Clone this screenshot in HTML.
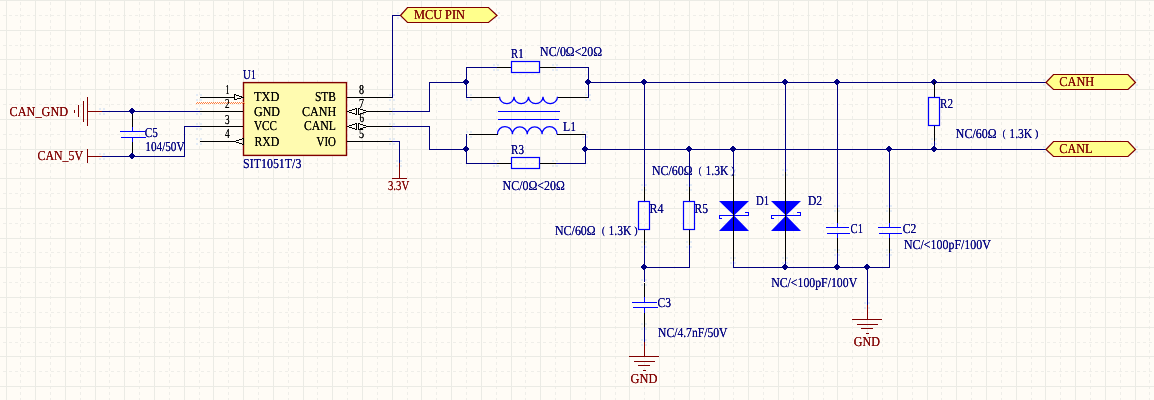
<!DOCTYPE html>
<html><head><meta charset="utf-8"><style>
html,body{margin:0;padding:0;background:#FFFCF6;}
svg{display:block;}
text{font-family:"Liberation Serif",serif;text-rendering:geometricPrecision;}
</style></head><body>
<svg width="1154" height="400" viewBox="0 0 1154 400">
<defs>
<filter id="th" x="0" y="0" width="1154" height="400" filterUnits="userSpaceOnUse"><feComponentTransfer><feFuncA type="table" tableValues="0 0.8 1"/></feComponentTransfer></filter>
<pattern id="dh" x="0" y="0" width="6" height="400" patternUnits="userSpaceOnUse"><rect x="3" y="0" width="3" height="400" fill="#EFEEE9"/></pattern>
<pattern id="dv" x="0" y="0" width="1154" height="6" patternUnits="userSpaceOnUse"><rect x="0" y="2" width="1154" height="3" fill="#EFEEE9"/></pattern>
</defs>
<rect width="1154" height="400" fill="#FFFCF6"/>
<g shape-rendering="crispEdges">
<rect x="20" y="0" width="1" height="400" fill="url(#dv)"/>
<rect x="50" y="0" width="1" height="400" fill="url(#dv)"/>
<rect x="80" y="0" width="1" height="400" fill="url(#dv)"/>
<rect x="109" y="0" width="1" height="400" fill="url(#dv)"/>
<rect x="139" y="0" width="1" height="400" fill="url(#dv)"/>
<rect x="169" y="0" width="1" height="400" fill="url(#dv)"/>
<rect x="199" y="0" width="1" height="400" fill="url(#dv)"/>
<rect x="228" y="0" width="1" height="400" fill="url(#dv)"/>
<rect x="258" y="0" width="1" height="400" fill="url(#dv)"/>
<rect x="288" y="0" width="1" height="400" fill="url(#dv)"/>
<rect x="317" y="0" width="1" height="400" fill="url(#dv)"/>
<rect x="347" y="0" width="1" height="400" fill="url(#dv)"/>
<rect x="377" y="0" width="1" height="400" fill="url(#dv)"/>
<rect x="407" y="0" width="1" height="400" fill="url(#dv)"/>
<rect x="436" y="0" width="1" height="400" fill="url(#dv)"/>
<rect x="466" y="0" width="1" height="400" fill="url(#dv)"/>
<rect x="496" y="0" width="1" height="400" fill="url(#dv)"/>
<rect x="525" y="0" width="1" height="400" fill="url(#dv)"/>
<rect x="555" y="0" width="1" height="400" fill="url(#dv)"/>
<rect x="585" y="0" width="1" height="400" fill="url(#dv)"/>
<rect x="615" y="0" width="1" height="400" fill="url(#dv)"/>
<rect x="644" y="0" width="1" height="400" fill="url(#dv)"/>
<rect x="674" y="0" width="1" height="400" fill="url(#dv)"/>
<rect x="704" y="0" width="1" height="400" fill="url(#dv)"/>
<rect x="733" y="0" width="1" height="400" fill="url(#dv)"/>
<rect x="763" y="0" width="1" height="400" fill="url(#dv)"/>
<rect x="793" y="0" width="1" height="400" fill="url(#dv)"/>
<rect x="823" y="0" width="1" height="400" fill="url(#dv)"/>
<rect x="852" y="0" width="1" height="400" fill="url(#dv)"/>
<rect x="882" y="0" width="1" height="400" fill="url(#dv)"/>
<rect x="912" y="0" width="1" height="400" fill="url(#dv)"/>
<rect x="941" y="0" width="1" height="400" fill="url(#dv)"/>
<rect x="971" y="0" width="1" height="400" fill="url(#dv)"/>
<rect x="1001" y="0" width="1" height="400" fill="url(#dv)"/>
<rect x="1031" y="0" width="1" height="400" fill="url(#dv)"/>
<rect x="1060" y="0" width="1" height="400" fill="url(#dv)"/>
<rect x="1090" y="0" width="1" height="400" fill="url(#dv)"/>
<rect x="1120" y="0" width="1" height="400" fill="url(#dv)"/>
<rect x="1149" y="0" width="1" height="400" fill="url(#dv)"/>
<rect x="0" y="15" width="1154" height="1" fill="url(#dh)"/>
<rect x="0" y="45" width="1154" height="1" fill="url(#dh)"/>
<rect x="0" y="74" width="1154" height="1" fill="url(#dh)"/>
<rect x="0" y="104" width="1154" height="1" fill="url(#dh)"/>
<rect x="0" y="134" width="1154" height="1" fill="url(#dh)"/>
<rect x="0" y="163" width="1154" height="1" fill="url(#dh)"/>
<rect x="0" y="193" width="1154" height="1" fill="url(#dh)"/>
<rect x="0" y="223" width="1154" height="1" fill="url(#dh)"/>
<rect x="0" y="252" width="1154" height="1" fill="url(#dh)"/>
<rect x="0" y="282" width="1154" height="1" fill="url(#dh)"/>
<rect x="0" y="312" width="1154" height="1" fill="url(#dh)"/>
<rect x="0" y="342" width="1154" height="1" fill="url(#dh)"/>
<rect x="0" y="371" width="1154" height="1" fill="url(#dh)"/>
<rect x="6" y="0" width="1" height="400" fill="#EBEBE5"/>
<rect x="35" y="0" width="1" height="400" fill="#EBEBE5"/>
<rect x="65" y="0" width="1" height="400" fill="#EBEBE5"/>
<rect x="95" y="0" width="1" height="400" fill="#EBEBE5"/>
<rect x="124" y="0" width="1" height="400" fill="#EBEBE5"/>
<rect x="154" y="0" width="1" height="400" fill="#EBEBE5"/>
<rect x="184" y="0" width="1" height="400" fill="#EBEBE5"/>
<rect x="213" y="0" width="1" height="400" fill="#EBEBE5"/>
<rect x="243" y="0" width="1" height="400" fill="#EBEBE5"/>
<rect x="273" y="0" width="1" height="400" fill="#EBEBE5"/>
<rect x="303" y="0" width="1" height="400" fill="#EBEBE5"/>
<rect x="332" y="0" width="1" height="400" fill="#EBEBE5"/>
<rect x="362" y="0" width="1" height="400" fill="#EBEBE5"/>
<rect x="392" y="0" width="1" height="400" fill="#EBEBE5"/>
<rect x="421" y="0" width="1" height="400" fill="#EBEBE5"/>
<rect x="451" y="0" width="1" height="400" fill="#EBEBE5"/>
<rect x="481" y="0" width="1" height="400" fill="#EBEBE5"/>
<rect x="511" y="0" width="1" height="400" fill="#EBEBE5"/>
<rect x="540" y="0" width="1" height="400" fill="#EBEBE5"/>
<rect x="570" y="0" width="1" height="400" fill="#EBEBE5"/>
<rect x="600" y="0" width="1" height="400" fill="#EBEBE5"/>
<rect x="629" y="0" width="1" height="400" fill="#EBEBE5"/>
<rect x="659" y="0" width="1" height="400" fill="#EBEBE5"/>
<rect x="689" y="0" width="1" height="400" fill="#EBEBE5"/>
<rect x="719" y="0" width="1" height="400" fill="#EBEBE5"/>
<rect x="748" y="0" width="1" height="400" fill="#EBEBE5"/>
<rect x="778" y="0" width="1" height="400" fill="#EBEBE5"/>
<rect x="808" y="0" width="1" height="400" fill="#EBEBE5"/>
<rect x="837" y="0" width="1" height="400" fill="#EBEBE5"/>
<rect x="867" y="0" width="1" height="400" fill="#EBEBE5"/>
<rect x="897" y="0" width="1" height="400" fill="#EBEBE5"/>
<rect x="927" y="0" width="1" height="400" fill="#EBEBE5"/>
<rect x="956" y="0" width="1" height="400" fill="#EBEBE5"/>
<rect x="986" y="0" width="1" height="400" fill="#EBEBE5"/>
<rect x="1016" y="0" width="1" height="400" fill="#EBEBE5"/>
<rect x="1045" y="0" width="1" height="400" fill="#EBEBE5"/>
<rect x="1075" y="0" width="1" height="400" fill="#EBEBE5"/>
<rect x="1105" y="0" width="1" height="400" fill="#EBEBE5"/>
<rect x="1135" y="0" width="1" height="400" fill="#EBEBE5"/>
<rect x="0" y="0" width="1154" height="1" fill="#EBEBE5"/>
<rect x="0" y="30" width="1154" height="1" fill="#EBEBE5"/>
<rect x="0" y="59" width="1154" height="1" fill="#EBEBE5"/>
<rect x="0" y="89" width="1154" height="1" fill="#EBEBE5"/>
<rect x="0" y="119" width="1154" height="1" fill="#EBEBE5"/>
<rect x="0" y="149" width="1154" height="1" fill="#EBEBE5"/>
<rect x="0" y="178" width="1154" height="1" fill="#EBEBE5"/>
<rect x="0" y="208" width="1154" height="1" fill="#EBEBE5"/>
<rect x="0" y="238" width="1154" height="1" fill="#EBEBE5"/>
<rect x="0" y="267" width="1154" height="1" fill="#EBEBE5"/>
<rect x="0" y="297" width="1154" height="1" fill="#EBEBE5"/>
<rect x="0" y="327" width="1154" height="1" fill="#EBEBE5"/>
<rect x="0" y="356" width="1154" height="1" fill="#EBEBE5"/>
<rect x="0" y="386" width="1154" height="1" fill="#EBEBE5"/>
</g>
<g>
<rect x="99" y="108" width="2" height="2" fill="#E3EBF5"/>
<rect x="103" y="108" width="2" height="2" fill="#E3EBF5"/>
<rect x="99" y="113" width="2" height="2" fill="#E3EBF5"/>
<rect x="103" y="113" width="2" height="2" fill="#E3EBF5"/>
<rect x="99" y="153" width="2" height="2" fill="#E3EBF5"/>
<rect x="103" y="153" width="2" height="2" fill="#E3EBF5"/>
<rect x="99" y="158" width="2" height="2" fill="#E3EBF5"/>
<rect x="103" y="158" width="2" height="2" fill="#E3EBF5"/>
<rect x="196" y="94" width="2" height="2" fill="#E3EBF5"/>
<rect x="200" y="94" width="2" height="2" fill="#E3EBF5"/>
<rect x="196" y="99" width="2" height="2" fill="#E3EBF5"/>
<rect x="200" y="99" width="2" height="2" fill="#E3EBF5"/>
<rect x="196" y="108" width="2" height="2" fill="#E3EBF5"/>
<rect x="200" y="108" width="2" height="2" fill="#E3EBF5"/>
<rect x="196" y="113" width="2" height="2" fill="#E3EBF5"/>
<rect x="200" y="113" width="2" height="2" fill="#E3EBF5"/>
<rect x="196" y="123" width="2" height="2" fill="#E3EBF5"/>
<rect x="200" y="123" width="2" height="2" fill="#E3EBF5"/>
<rect x="196" y="128" width="2" height="2" fill="#E3EBF5"/>
<rect x="200" y="128" width="2" height="2" fill="#E3EBF5"/>
<rect x="196" y="138" width="2" height="2" fill="#E3EBF5"/>
<rect x="200" y="138" width="2" height="2" fill="#E3EBF5"/>
<rect x="196" y="143" width="2" height="2" fill="#E3EBF5"/>
<rect x="200" y="143" width="2" height="2" fill="#E3EBF5"/>
<rect x="389" y="94" width="2" height="2" fill="#E3EBF5"/>
<rect x="393" y="94" width="2" height="2" fill="#E3EBF5"/>
<rect x="389" y="99" width="2" height="2" fill="#E3EBF5"/>
<rect x="393" y="99" width="2" height="2" fill="#E3EBF5"/>
<rect x="389" y="108" width="2" height="2" fill="#E3EBF5"/>
<rect x="393" y="108" width="2" height="2" fill="#E3EBF5"/>
<rect x="389" y="113" width="2" height="2" fill="#E3EBF5"/>
<rect x="393" y="113" width="2" height="2" fill="#E3EBF5"/>
<rect x="389" y="123" width="2" height="2" fill="#E3EBF5"/>
<rect x="393" y="123" width="2" height="2" fill="#E3EBF5"/>
<rect x="389" y="128" width="2" height="2" fill="#E3EBF5"/>
<rect x="393" y="128" width="2" height="2" fill="#E3EBF5"/>
<rect x="389" y="138" width="2" height="2" fill="#E3EBF5"/>
<rect x="393" y="138" width="2" height="2" fill="#E3EBF5"/>
<rect x="389" y="143" width="2" height="2" fill="#E3EBF5"/>
<rect x="393" y="143" width="2" height="2" fill="#E3EBF5"/>
<rect x="397" y="12" width="2" height="2" fill="#E3EBF5"/>
<rect x="401" y="12" width="2" height="2" fill="#E3EBF5"/>
<rect x="397" y="17" width="2" height="2" fill="#E3EBF5"/>
<rect x="401" y="17" width="2" height="2" fill="#E3EBF5"/>
<rect x="493" y="64" width="2" height="2" fill="#E3EBF5"/>
<rect x="497" y="64" width="2" height="2" fill="#E3EBF5"/>
<rect x="493" y="69" width="2" height="2" fill="#E3EBF5"/>
<rect x="497" y="69" width="2" height="2" fill="#E3EBF5"/>
<rect x="552" y="64" width="2" height="2" fill="#E3EBF5"/>
<rect x="556" y="64" width="2" height="2" fill="#E3EBF5"/>
<rect x="552" y="69" width="2" height="2" fill="#E3EBF5"/>
<rect x="556" y="69" width="2" height="2" fill="#E3EBF5"/>
<rect x="466" y="94" width="2" height="2" fill="#E3EBF5"/>
<rect x="470" y="94" width="2" height="2" fill="#E3EBF5"/>
<rect x="466" y="99" width="2" height="2" fill="#E3EBF5"/>
<rect x="470" y="99" width="2" height="2" fill="#E3EBF5"/>
<rect x="585" y="94" width="2" height="2" fill="#E3EBF5"/>
<rect x="589" y="94" width="2" height="2" fill="#E3EBF5"/>
<rect x="585" y="99" width="2" height="2" fill="#E3EBF5"/>
<rect x="589" y="99" width="2" height="2" fill="#E3EBF5"/>
<rect x="466" y="131" width="2" height="2" fill="#E3EBF5"/>
<rect x="470" y="131" width="2" height="2" fill="#E3EBF5"/>
<rect x="466" y="136" width="2" height="2" fill="#E3EBF5"/>
<rect x="470" y="136" width="2" height="2" fill="#E3EBF5"/>
<rect x="582" y="131" width="2" height="2" fill="#E3EBF5"/>
<rect x="586" y="131" width="2" height="2" fill="#E3EBF5"/>
<rect x="582" y="136" width="2" height="2" fill="#E3EBF5"/>
<rect x="586" y="136" width="2" height="2" fill="#E3EBF5"/>
<rect x="493" y="160" width="2" height="2" fill="#E3EBF5"/>
<rect x="497" y="160" width="2" height="2" fill="#E3EBF5"/>
<rect x="493" y="165" width="2" height="2" fill="#E3EBF5"/>
<rect x="497" y="165" width="2" height="2" fill="#E3EBF5"/>
<rect x="552" y="160" width="2" height="2" fill="#E3EBF5"/>
<rect x="556" y="160" width="2" height="2" fill="#E3EBF5"/>
<rect x="552" y="165" width="2" height="2" fill="#E3EBF5"/>
<rect x="556" y="165" width="2" height="2" fill="#E3EBF5"/>
<rect x="931" y="138" width="2" height="2" fill="#E3EBF5"/>
<rect x="935" y="138" width="2" height="2" fill="#E3EBF5"/>
<rect x="931" y="143" width="2" height="2" fill="#E3EBF5"/>
<rect x="935" y="143" width="2" height="2" fill="#E3EBF5"/>
<rect x="641" y="184" width="2" height="2" fill="#E3EBF5"/>
<rect x="645" y="184" width="2" height="2" fill="#E3EBF5"/>
<rect x="641" y="189" width="2" height="2" fill="#E3EBF5"/>
<rect x="645" y="189" width="2" height="2" fill="#E3EBF5"/>
<rect x="641" y="241" width="2" height="2" fill="#E3EBF5"/>
<rect x="645" y="241" width="2" height="2" fill="#E3EBF5"/>
<rect x="641" y="246" width="2" height="2" fill="#E3EBF5"/>
<rect x="645" y="246" width="2" height="2" fill="#E3EBF5"/>
<rect x="686" y="184" width="2" height="2" fill="#E3EBF5"/>
<rect x="690" y="184" width="2" height="2" fill="#E3EBF5"/>
<rect x="686" y="189" width="2" height="2" fill="#E3EBF5"/>
<rect x="690" y="189" width="2" height="2" fill="#E3EBF5"/>
<rect x="686" y="241" width="2" height="2" fill="#E3EBF5"/>
<rect x="690" y="241" width="2" height="2" fill="#E3EBF5"/>
<rect x="686" y="246" width="2" height="2" fill="#E3EBF5"/>
<rect x="690" y="246" width="2" height="2" fill="#E3EBF5"/>
<rect x="730" y="169" width="2" height="2" fill="#E3EBF5"/>
<rect x="734" y="169" width="2" height="2" fill="#E3EBF5"/>
<rect x="730" y="174" width="2" height="2" fill="#E3EBF5"/>
<rect x="734" y="174" width="2" height="2" fill="#E3EBF5"/>
<rect x="730" y="257" width="2" height="2" fill="#E3EBF5"/>
<rect x="734" y="257" width="2" height="2" fill="#E3EBF5"/>
<rect x="730" y="262" width="2" height="2" fill="#E3EBF5"/>
<rect x="734" y="262" width="2" height="2" fill="#E3EBF5"/>
<rect x="782" y="169" width="2" height="2" fill="#E3EBF5"/>
<rect x="786" y="169" width="2" height="2" fill="#E3EBF5"/>
<rect x="782" y="174" width="2" height="2" fill="#E3EBF5"/>
<rect x="786" y="174" width="2" height="2" fill="#E3EBF5"/>
<rect x="782" y="257" width="2" height="2" fill="#E3EBF5"/>
<rect x="786" y="257" width="2" height="2" fill="#E3EBF5"/>
<rect x="782" y="262" width="2" height="2" fill="#E3EBF5"/>
<rect x="786" y="262" width="2" height="2" fill="#E3EBF5"/>
<rect x="834" y="205" width="2" height="2" fill="#E3EBF5"/>
<rect x="838" y="205" width="2" height="2" fill="#E3EBF5"/>
<rect x="834" y="210" width="2" height="2" fill="#E3EBF5"/>
<rect x="838" y="210" width="2" height="2" fill="#E3EBF5"/>
<rect x="834" y="249" width="2" height="2" fill="#E3EBF5"/>
<rect x="838" y="249" width="2" height="2" fill="#E3EBF5"/>
<rect x="834" y="254" width="2" height="2" fill="#E3EBF5"/>
<rect x="838" y="254" width="2" height="2" fill="#E3EBF5"/>
<rect x="886" y="205" width="2" height="2" fill="#E3EBF5"/>
<rect x="890" y="205" width="2" height="2" fill="#E3EBF5"/>
<rect x="886" y="210" width="2" height="2" fill="#E3EBF5"/>
<rect x="890" y="210" width="2" height="2" fill="#E3EBF5"/>
<rect x="886" y="249" width="2" height="2" fill="#E3EBF5"/>
<rect x="890" y="249" width="2" height="2" fill="#E3EBF5"/>
<rect x="886" y="254" width="2" height="2" fill="#E3EBF5"/>
<rect x="890" y="254" width="2" height="2" fill="#E3EBF5"/>
<rect x="641" y="279" width="2" height="2" fill="#E3EBF5"/>
<rect x="645" y="279" width="2" height="2" fill="#E3EBF5"/>
<rect x="641" y="284" width="2" height="2" fill="#E3EBF5"/>
<rect x="645" y="284" width="2" height="2" fill="#E3EBF5"/>
<rect x="641" y="323" width="2" height="2" fill="#E3EBF5"/>
<rect x="645" y="323" width="2" height="2" fill="#E3EBF5"/>
<rect x="641" y="328" width="2" height="2" fill="#E3EBF5"/>
<rect x="645" y="328" width="2" height="2" fill="#E3EBF5"/>
<rect x="864" y="302" width="2" height="2" fill="#E3EBF5"/>
<rect x="868" y="302" width="2" height="2" fill="#E3EBF5"/>
<rect x="864" y="307" width="2" height="2" fill="#E3EBF5"/>
<rect x="868" y="307" width="2" height="2" fill="#E3EBF5"/>
<rect x="641" y="339" width="2" height="2" fill="#E3EBF5"/>
<rect x="645" y="339" width="2" height="2" fill="#E3EBF5"/>
<rect x="641" y="344" width="2" height="2" fill="#E3EBF5"/>
<rect x="645" y="344" width="2" height="2" fill="#E3EBF5"/>
<rect x="396" y="160" width="2" height="2" fill="#E3EBF5"/>
<rect x="400" y="160" width="2" height="2" fill="#E3EBF5"/>
<rect x="396" y="165" width="2" height="2" fill="#E3EBF5"/>
<rect x="400" y="165" width="2" height="2" fill="#E3EBF5"/>
<rect x="1043" y="79" width="2" height="2" fill="#E3EBF5"/>
<rect x="1047" y="79" width="2" height="2" fill="#E3EBF5"/>
<rect x="1043" y="84" width="2" height="2" fill="#E3EBF5"/>
<rect x="1047" y="84" width="2" height="2" fill="#E3EBF5"/>
<rect x="1043" y="146" width="2" height="2" fill="#E3EBF5"/>
<rect x="1047" y="146" width="2" height="2" fill="#E3EBF5"/>
<rect x="1043" y="151" width="2" height="2" fill="#E3EBF5"/>
<rect x="1047" y="151" width="2" height="2" fill="#E3EBF5"/>
<rect x="494" y="12" width="2" height="2" fill="#E3EBF5"/>
<rect x="498" y="12" width="2" height="2" fill="#E3EBF5"/>
<rect x="494" y="17" width="2" height="2" fill="#E3EBF5"/>
<rect x="498" y="17" width="2" height="2" fill="#E3EBF5"/>
<rect x="1132" y="79" width="2" height="2" fill="#E3EBF5"/>
<rect x="1136" y="79" width="2" height="2" fill="#E3EBF5"/>
<rect x="1132" y="84" width="2" height="2" fill="#E3EBF5"/>
<rect x="1136" y="84" width="2" height="2" fill="#E3EBF5"/>
<rect x="1132" y="146" width="2" height="2" fill="#E3EBF5"/>
<rect x="1136" y="146" width="2" height="2" fill="#E3EBF5"/>
<rect x="1132" y="151" width="2" height="2" fill="#E3EBF5"/>
<rect x="1136" y="151" width="2" height="2" fill="#E3EBF5"/>
<rect x="74" y="110" width="1" height="3" fill="#800000"/>
<rect x="78" y="105" width="1" height="12" fill="#800000"/>
<rect x="83" y="101" width="1" height="21" fill="#800000"/>
<rect x="87" y="97" width="1" height="29" fill="#800000"/>
<rect x="87" y="111" width="15" height="1" fill="#800000"/>
<rect x="102" y="111" width="98" height="1" fill="#000080"/>
<rect x="87" y="149" width="1" height="14" fill="#800000"/>
<rect x="87" y="156" width="15" height="1" fill="#800000"/>
<rect x="102" y="156" width="83" height="1" fill="#000080"/>
<rect x="184" y="126" width="1" height="31" fill="#000080"/>
<rect x="184" y="126" width="16" height="1" fill="#000080"/>
<rect x="132" y="111" width="1" height="16" fill="#000000"/>
<rect x="132" y="127" width="1" height="5" fill="#0000FF"/>
<rect x="120" y="131" width="25" height="1" fill="#0000FF"/>
<rect x="121" y="137" width="25" height="1" fill="#0000FF"/>
<rect x="132" y="137" width="1" height="5" fill="#0000FF"/>
<rect x="132" y="142" width="1" height="15" fill="#000000"/>
<rect x="131" y="108" width="2" height="1" fill="#000080"/>
<rect x="130" y="109" width="4" height="1" fill="#000080"/>
<rect x="129" y="110" width="6" height="1" fill="#000080"/>
<rect x="129" y="111" width="6" height="1" fill="#000080"/>
<rect x="130" y="112" width="4" height="1" fill="#000080"/>
<rect x="131" y="113" width="2" height="1" fill="#000080"/>
<rect x="131" y="153" width="2" height="1" fill="#000080"/>
<rect x="130" y="154" width="4" height="1" fill="#000080"/>
<rect x="129" y="155" width="6" height="1" fill="#000080"/>
<rect x="129" y="156" width="6" height="1" fill="#000080"/>
<rect x="130" y="157" width="4" height="1" fill="#000080"/>
<rect x="131" y="158" width="2" height="1" fill="#000080"/>
<rect x="243.5" y="82.6" width="103" height="72.8" fill="#FFFBB0" stroke="#800000" stroke-width="1.4"/>
<rect x="200" y="97" width="35" height="1" fill="#000000"/>
<rect x="234" y="94" width="1" height="6" fill="#000000"/>
<rect x="234" y="94" width="2" height="1" fill="#000000"/>
<rect x="234" y="99" width="3" height="1" fill="#000000"/>
<rect x="236" y="95" width="3" height="1" fill="#000000"/>
<rect x="239" y="96" width="3" height="1" fill="#000000"/>
<rect x="241" y="97" width="3" height="1" fill="#000000"/>
<rect x="237" y="98" width="4" height="1" fill="#000000"/>
<rect x="200" y="111" width="43" height="1" fill="#000000"/>
<rect x="200" y="126" width="43" height="1" fill="#000000"/>
<rect x="200" y="141" width="36" height="1" fill="#000000"/>
<rect x="236" y="140" width="3" height="1" fill="#000000"/>
<rect x="236" y="142" width="3" height="1" fill="#000000"/>
<rect x="239" y="139" width="3" height="1" fill="#000000"/>
<rect x="239" y="143" width="3" height="1" fill="#000000"/>
<rect x="242" y="138" width="2" height="1" fill="#000000"/>
<rect x="242" y="144" width="2" height="1" fill="#000000"/>
<rect x="243" y="138" width="1" height="7" fill="#000000"/>
<rect x="196" y="103" width="1" height="1" fill="#FF7F40"/>
<rect x="197" y="102" width="1" height="1" fill="#FF7F40"/>
<rect x="198" y="103" width="1" height="1" fill="#FF7F40"/>
<rect x="199" y="102" width="1" height="1" fill="#FF7F40"/>
<rect x="200" y="103" width="1" height="1" fill="#FF7F40"/>
<rect x="201" y="102" width="1" height="1" fill="#FF7F40"/>
<rect x="202" y="103" width="1" height="1" fill="#FF7F40"/>
<rect x="203" y="102" width="1" height="1" fill="#FF7F40"/>
<rect x="204" y="103" width="1" height="1" fill="#FF7F40"/>
<rect x="205" y="102" width="1" height="1" fill="#FF7F40"/>
<rect x="206" y="103" width="1" height="1" fill="#FF7F40"/>
<rect x="207" y="102" width="1" height="1" fill="#FF7F40"/>
<rect x="208" y="103" width="1" height="1" fill="#FF7F40"/>
<rect x="209" y="102" width="1" height="1" fill="#FF7F40"/>
<rect x="210" y="103" width="1" height="1" fill="#FF7F40"/>
<rect x="211" y="102" width="1" height="1" fill="#FF7F40"/>
<rect x="212" y="103" width="1" height="1" fill="#FF7F40"/>
<rect x="213" y="102" width="1" height="1" fill="#FF7F40"/>
<rect x="214" y="103" width="1" height="1" fill="#FF7F40"/>
<rect x="215" y="102" width="1" height="1" fill="#FF7F40"/>
<rect x="216" y="103" width="1" height="1" fill="#FF7F40"/>
<rect x="217" y="102" width="1" height="1" fill="#FF7F40"/>
<rect x="218" y="103" width="1" height="1" fill="#FF7F40"/>
<rect x="219" y="102" width="1" height="1" fill="#FF7F40"/>
<rect x="220" y="103" width="1" height="1" fill="#FF7F40"/>
<rect x="221" y="102" width="1" height="1" fill="#FF7F40"/>
<rect x="222" y="103" width="1" height="1" fill="#FF7F40"/>
<rect x="223" y="102" width="1" height="1" fill="#FF7F40"/>
<rect x="224" y="103" width="1" height="1" fill="#FF7F40"/>
<rect x="225" y="102" width="1" height="1" fill="#FF7F40"/>
<rect x="226" y="103" width="1" height="1" fill="#FF7F40"/>
<rect x="227" y="102" width="1" height="1" fill="#FF7F40"/>
<rect x="228" y="103" width="1" height="1" fill="#FF7F40"/>
<rect x="229" y="102" width="1" height="1" fill="#FF7F40"/>
<rect x="230" y="103" width="1" height="1" fill="#FF7F40"/>
<rect x="231" y="102" width="1" height="1" fill="#FF7F40"/>
<rect x="232" y="103" width="1" height="1" fill="#FF7F40"/>
<rect x="233" y="102" width="1" height="1" fill="#FF7F40"/>
<rect x="234" y="103" width="1" height="1" fill="#FF7F40"/>
<rect x="235" y="102" width="1" height="1" fill="#FF7F40"/>
<rect x="236" y="103" width="1" height="1" fill="#FF7F40"/>
<rect x="237" y="102" width="1" height="1" fill="#FF7F40"/>
<rect x="238" y="103" width="1" height="1" fill="#FF7F40"/>
<rect x="239" y="102" width="1" height="1" fill="#FF7F40"/>
<rect x="240" y="103" width="1" height="1" fill="#FF7F40"/>
<rect x="241" y="102" width="1" height="1" fill="#FF7F40"/>
<rect x="242" y="103" width="1" height="1" fill="#FF7F40"/>
<rect x="243" y="102" width="1" height="1" fill="#FF7F40"/>
<rect x="244" y="103" width="1" height="1" fill="#FF7F40"/>
<rect x="347" y="97" width="46" height="1" fill="#000000"/>
<rect x="347" y="111" width="2" height="1" fill="#000000"/>
<rect x="366" y="111" width="26" height="1" fill="#000000"/>
<rect x="347" y="126" width="2" height="1" fill="#000000"/>
<rect x="366" y="126" width="26" height="1" fill="#000000"/>
<rect x="347" y="141" width="45" height="1" fill="#000000"/>
<rect x="349" y="110" width="3" height="1" fill="#000000"/>
<rect x="349" y="112" width="3" height="1" fill="#000000"/>
<rect x="352" y="109" width="3" height="1" fill="#000000"/>
<rect x="352" y="113" width="3" height="1" fill="#000000"/>
<rect x="355" y="108" width="2" height="1" fill="#000000"/>
<rect x="355" y="114" width="2" height="1" fill="#000000"/>
<rect x="356" y="108" width="1" height="7" fill="#000000"/>
<rect x="358" y="108" width="1" height="7" fill="#000000"/>
<rect x="358" y="108" width="2" height="1" fill="#000000"/>
<rect x="358" y="114" width="2" height="1" fill="#000000"/>
<rect x="360" y="109" width="3" height="1" fill="#000000"/>
<rect x="360" y="113" width="3" height="1" fill="#000000"/>
<rect x="363" y="110" width="3" height="1" fill="#000000"/>
<rect x="363" y="112" width="3" height="1" fill="#000000"/>
<rect x="349" y="125" width="3" height="1" fill="#000000"/>
<rect x="349" y="127" width="3" height="1" fill="#000000"/>
<rect x="352" y="124" width="3" height="1" fill="#000000"/>
<rect x="352" y="128" width="3" height="1" fill="#000000"/>
<rect x="355" y="123" width="2" height="1" fill="#000000"/>
<rect x="355" y="129" width="2" height="1" fill="#000000"/>
<rect x="356" y="123" width="1" height="7" fill="#000000"/>
<rect x="358" y="123" width="1" height="7" fill="#000000"/>
<rect x="358" y="123" width="2" height="1" fill="#000000"/>
<rect x="358" y="129" width="2" height="1" fill="#000000"/>
<rect x="360" y="124" width="3" height="1" fill="#000000"/>
<rect x="360" y="128" width="3" height="1" fill="#000000"/>
<rect x="363" y="125" width="3" height="1" fill="#000000"/>
<rect x="363" y="127" width="3" height="1" fill="#000000"/>
<rect x="392" y="15" width="1" height="83" fill="#000080"/>
<rect x="392" y="15" width="9" height="1" fill="#000080"/>
<path d="M400.5 15.5 L407.5 7.5 L488.5 7.5 L497 15.5 L488.5 22.5 L407.5 22.5 Z" fill="#FFFF8C" stroke="#800000" stroke-width="1.2"/>
<rect x="392" y="111" width="38" height="1" fill="#000080"/>
<rect x="429" y="82" width="1" height="30" fill="#000080"/>
<rect x="429" y="82" width="38" height="1" fill="#000080"/>
<rect x="392" y="126" width="38" height="1" fill="#000080"/>
<rect x="429" y="126" width="1" height="24" fill="#000080"/>
<rect x="429" y="149" width="38" height="1" fill="#000080"/>
<rect x="392" y="141" width="8" height="1" fill="#000080"/>
<rect x="399" y="141" width="1" height="22" fill="#000080"/>
<rect x="399" y="163" width="1" height="16" fill="#800000"/>
<rect x="392" y="178" width="15" height="1" fill="#800000"/>
<rect x="466" y="67" width="1" height="31" fill="#000080"/>
<rect x="466" y="67" width="31" height="1" fill="#000080"/>
<rect x="497" y="67" width="15" height="1" fill="#000000"/>
<rect x="511.5" y="61.5" width="28" height="11" fill="none" stroke="#0000FF" stroke-width="1.2"/>
<rect x="540" y="67" width="16" height="1" fill="#000000"/>
<rect x="556" y="67" width="33" height="1" fill="#000080"/>
<rect x="588" y="67" width="1" height="31" fill="#000080"/>
<rect x="466" y="97" width="4" height="1" fill="#000080"/>
<rect x="470" y="97" width="30" height="1" fill="#000000"/>
<rect x="557" y="97" width="31" height="1" fill="#000000"/>
<rect x="465" y="79" width="2" height="1" fill="#000080"/>
<rect x="464" y="80" width="4" height="1" fill="#000080"/>
<rect x="463" y="81" width="6" height="1" fill="#000080"/>
<rect x="463" y="82" width="6" height="1" fill="#000080"/>
<rect x="464" y="83" width="4" height="1" fill="#000080"/>
<rect x="465" y="84" width="2" height="1" fill="#000080"/>
<rect x="587" y="79" width="2" height="1" fill="#000080"/>
<rect x="586" y="80" width="4" height="1" fill="#000080"/>
<rect x="585" y="81" width="6" height="1" fill="#000080"/>
<rect x="585" y="82" width="6" height="1" fill="#000080"/>
<rect x="586" y="83" width="4" height="1" fill="#000080"/>
<rect x="587" y="84" width="2" height="1" fill="#000080"/>
<path d="M499.5 96.8 A7.25 6.80 0 0 0 514.00 96.8 A7.25 6.80 0 0 0 528.50 96.8 A7.25 6.80 0 0 0 543.00 96.8 A7.25 6.80 0 0 0 557.50 96.8" fill="none" stroke="#0000FF" stroke-width="1.3"/>
<rect x="498" y="111" width="62" height="1" fill="#0000FF"/>
<rect x="498" y="119" width="61" height="1" fill="#0000FF"/>
<path d="M497.5 134.2 A7.44 7.60 0 0 1 512.38 134.2 A7.44 7.60 0 0 1 527.25 134.2 A7.44 7.60 0 0 1 542.12 134.2 A7.44 7.60 0 0 1 557.00 134.2" fill="none" stroke="#0000FF" stroke-width="1.3"/>
<rect x="469" y="134" width="29" height="1" fill="#000000"/>
<rect x="557" y="134" width="29" height="1" fill="#000000"/>
<rect x="466" y="134" width="1" height="30" fill="#000080"/>
<rect x="466" y="163" width="31" height="1" fill="#000080"/>
<rect x="497" y="163" width="15" height="1" fill="#000000"/>
<rect x="511.5" y="157.5" width="28" height="11" fill="none" stroke="#0000FF" stroke-width="1.2"/>
<rect x="540" y="163" width="16" height="1" fill="#000000"/>
<rect x="556" y="163" width="30" height="1" fill="#000080"/>
<rect x="585" y="134" width="1" height="30" fill="#000080"/>
<rect x="465" y="146" width="2" height="1" fill="#000080"/>
<rect x="464" y="147" width="4" height="1" fill="#000080"/>
<rect x="463" y="148" width="6" height="1" fill="#000080"/>
<rect x="463" y="149" width="6" height="1" fill="#000080"/>
<rect x="464" y="150" width="4" height="1" fill="#000080"/>
<rect x="465" y="151" width="2" height="1" fill="#000080"/>
<rect x="584" y="146" width="2" height="1" fill="#000080"/>
<rect x="583" y="147" width="4" height="1" fill="#000080"/>
<rect x="582" y="148" width="6" height="1" fill="#000080"/>
<rect x="582" y="149" width="6" height="1" fill="#000080"/>
<rect x="583" y="150" width="4" height="1" fill="#000080"/>
<rect x="584" y="151" width="2" height="1" fill="#000080"/>
<rect x="588" y="82" width="458" height="1" fill="#000080"/>
<rect x="585" y="149" width="461" height="1" fill="#000080"/>
<rect x="643" y="79" width="2" height="1" fill="#000080"/>
<rect x="642" y="80" width="4" height="1" fill="#000080"/>
<rect x="641" y="81" width="6" height="1" fill="#000080"/>
<rect x="641" y="82" width="6" height="1" fill="#000080"/>
<rect x="642" y="83" width="4" height="1" fill="#000080"/>
<rect x="643" y="84" width="2" height="1" fill="#000080"/>
<rect x="784" y="79" width="2" height="1" fill="#000080"/>
<rect x="783" y="80" width="4" height="1" fill="#000080"/>
<rect x="782" y="81" width="6" height="1" fill="#000080"/>
<rect x="782" y="82" width="6" height="1" fill="#000080"/>
<rect x="783" y="83" width="4" height="1" fill="#000080"/>
<rect x="784" y="84" width="2" height="1" fill="#000080"/>
<rect x="836" y="79" width="2" height="1" fill="#000080"/>
<rect x="835" y="80" width="4" height="1" fill="#000080"/>
<rect x="834" y="81" width="6" height="1" fill="#000080"/>
<rect x="834" y="82" width="6" height="1" fill="#000080"/>
<rect x="835" y="83" width="4" height="1" fill="#000080"/>
<rect x="836" y="84" width="2" height="1" fill="#000080"/>
<rect x="933" y="79" width="2" height="1" fill="#000080"/>
<rect x="932" y="80" width="4" height="1" fill="#000080"/>
<rect x="931" y="81" width="6" height="1" fill="#000080"/>
<rect x="931" y="82" width="6" height="1" fill="#000080"/>
<rect x="932" y="83" width="4" height="1" fill="#000080"/>
<rect x="933" y="84" width="2" height="1" fill="#000080"/>
<rect x="688" y="146" width="2" height="1" fill="#000080"/>
<rect x="687" y="147" width="4" height="1" fill="#000080"/>
<rect x="686" y="148" width="6" height="1" fill="#000080"/>
<rect x="686" y="149" width="6" height="1" fill="#000080"/>
<rect x="687" y="150" width="4" height="1" fill="#000080"/>
<rect x="688" y="151" width="2" height="1" fill="#000080"/>
<rect x="732" y="146" width="2" height="1" fill="#000080"/>
<rect x="731" y="147" width="4" height="1" fill="#000080"/>
<rect x="730" y="148" width="6" height="1" fill="#000080"/>
<rect x="730" y="149" width="6" height="1" fill="#000080"/>
<rect x="731" y="150" width="4" height="1" fill="#000080"/>
<rect x="732" y="151" width="2" height="1" fill="#000080"/>
<rect x="888" y="146" width="2" height="1" fill="#000080"/>
<rect x="887" y="147" width="4" height="1" fill="#000080"/>
<rect x="886" y="148" width="6" height="1" fill="#000080"/>
<rect x="886" y="149" width="6" height="1" fill="#000080"/>
<rect x="887" y="150" width="4" height="1" fill="#000080"/>
<rect x="888" y="151" width="2" height="1" fill="#000080"/>
<rect x="933" y="146" width="2" height="1" fill="#000080"/>
<rect x="932" y="147" width="4" height="1" fill="#000080"/>
<rect x="931" y="148" width="6" height="1" fill="#000080"/>
<rect x="931" y="149" width="6" height="1" fill="#000080"/>
<rect x="932" y="150" width="4" height="1" fill="#000080"/>
<rect x="933" y="151" width="2" height="1" fill="#000080"/>
<path d="M1046 82.5 L1053.5 74.5 L1128 74.5 L1135.5 82.5 L1128 89.5 L1053.5 89.5 Z" fill="#FFFF8C" stroke="#800000" stroke-width="1.2"/>
<path d="M1046 149.5 L1053.5 141.5 L1128 141.5 L1135.5 149.5 L1128 156.5 L1053.5 156.5 Z" fill="#FFFF8C" stroke="#800000" stroke-width="1.2"/>
<rect x="934" y="82" width="1" height="15" fill="#000000"/>
<rect x="928.5" y="97.5" width="11" height="28" fill="none" stroke="#0000FF" stroke-width="1.2"/>
<rect x="934" y="126" width="1" height="15" fill="#000000"/>
<rect x="934" y="141" width="1" height="9" fill="#000080"/>
<rect x="644" y="82" width="1" height="105" fill="#000080"/>
<rect x="644" y="187" width="1" height="14" fill="#000000"/>
<rect x="638.5" y="201.5" width="11" height="28" fill="none" stroke="#0000FF" stroke-width="1.2"/>
<rect x="644" y="230" width="1" height="15" fill="#000000"/>
<rect x="644" y="245" width="1" height="23" fill="#000080"/>
<rect x="689" y="149" width="1" height="38" fill="#000080"/>
<rect x="689" y="187" width="1" height="14" fill="#000000"/>
<rect x="683.5" y="201.5" width="11" height="28" fill="none" stroke="#0000FF" stroke-width="1.2"/>
<rect x="689" y="230" width="1" height="15" fill="#000000"/>
<rect x="689" y="245" width="1" height="23" fill="#000080"/>
<rect x="644" y="267" width="46" height="1" fill="#000080"/>
<rect x="643" y="264" width="2" height="1" fill="#000080"/>
<rect x="642" y="265" width="4" height="1" fill="#000080"/>
<rect x="641" y="266" width="6" height="1" fill="#000080"/>
<rect x="641" y="267" width="6" height="1" fill="#000080"/>
<rect x="642" y="268" width="4" height="1" fill="#000080"/>
<rect x="643" y="269" width="2" height="1" fill="#000080"/>
<path d="M719 201 L749 201 L734 215.5 Z M719 231 L749 231 L734 215.5 Z" fill="#0000FF"/>
<rect x="719" y="215" width="30" height="1" fill="#0000FF"/>
<rect x="719" y="215" width="1" height="4" fill="#0000FF"/>
<rect x="719" y="218" width="3" height="1" fill="#0000FF"/>
<rect x="748" y="212" width="1" height="4" fill="#0000FF"/>
<rect x="745" y="212" width="4" height="1" fill="#0000FF"/>
<rect x="733" y="172" width="1" height="89" fill="#000000"/>
<path d="M771 201 L801 201 L786 215.5 Z M771 231 L801 231 L786 215.5 Z" fill="#0000FF"/>
<rect x="771" y="215" width="30" height="1" fill="#0000FF"/>
<rect x="771" y="215" width="1" height="4" fill="#0000FF"/>
<rect x="771" y="218" width="3" height="1" fill="#0000FF"/>
<rect x="800" y="212" width="1" height="4" fill="#0000FF"/>
<rect x="797" y="212" width="4" height="1" fill="#0000FF"/>
<rect x="785" y="172" width="1" height="89" fill="#000000"/>
<rect x="733" y="149" width="1" height="23" fill="#000080"/>
<rect x="733" y="261" width="1" height="7" fill="#000080"/>
<rect x="785" y="82" width="1" height="90" fill="#000080"/>
<rect x="785" y="261" width="1" height="7" fill="#000080"/>
<rect x="837" y="82" width="1" height="126" fill="#000080"/>
<rect x="837" y="208" width="1" height="15" fill="#000000"/>
<rect x="837" y="223" width="1" height="5" fill="#0000FF"/>
<rect x="826" y="227" width="23" height="1" fill="#0000FF"/>
<rect x="827" y="233" width="23" height="1" fill="#0000FF"/>
<rect x="837" y="233" width="1" height="5" fill="#0000FF"/>
<rect x="837" y="238" width="1" height="15" fill="#000000"/>
<rect x="837" y="253" width="1" height="15" fill="#000080"/>
<rect x="889" y="149" width="1" height="59" fill="#000080"/>
<rect x="889" y="208" width="1" height="15" fill="#000000"/>
<rect x="889" y="223" width="1" height="5" fill="#0000FF"/>
<rect x="878" y="227" width="23" height="1" fill="#0000FF"/>
<rect x="879" y="233" width="23" height="1" fill="#0000FF"/>
<rect x="889" y="233" width="1" height="5" fill="#0000FF"/>
<rect x="889" y="238" width="1" height="15" fill="#000000"/>
<rect x="889" y="253" width="1" height="15" fill="#000080"/>
<rect x="733" y="267" width="157" height="1" fill="#000080"/>
<rect x="784" y="264" width="2" height="1" fill="#000080"/>
<rect x="783" y="265" width="4" height="1" fill="#000080"/>
<rect x="782" y="266" width="6" height="1" fill="#000080"/>
<rect x="782" y="267" width="6" height="1" fill="#000080"/>
<rect x="783" y="268" width="4" height="1" fill="#000080"/>
<rect x="784" y="269" width="2" height="1" fill="#000080"/>
<rect x="836" y="264" width="2" height="1" fill="#000080"/>
<rect x="835" y="265" width="4" height="1" fill="#000080"/>
<rect x="834" y="266" width="6" height="1" fill="#000080"/>
<rect x="834" y="267" width="6" height="1" fill="#000080"/>
<rect x="835" y="268" width="4" height="1" fill="#000080"/>
<rect x="836" y="269" width="2" height="1" fill="#000080"/>
<rect x="866" y="264" width="2" height="1" fill="#000080"/>
<rect x="865" y="265" width="4" height="1" fill="#000080"/>
<rect x="864" y="266" width="6" height="1" fill="#000080"/>
<rect x="864" y="267" width="6" height="1" fill="#000080"/>
<rect x="865" y="268" width="4" height="1" fill="#000080"/>
<rect x="866" y="269" width="2" height="1" fill="#000080"/>
<rect x="867" y="267" width="1" height="38" fill="#000080"/>
<rect x="867" y="305" width="1" height="15" fill="#800000"/>
<rect x="852" y="319" width="30" height="1" fill="#800000"/>
<rect x="857" y="324" width="21" height="1" fill="#800000"/>
<rect x="861" y="328" width="12" height="1" fill="#800000"/>
<rect x="866" y="333" width="3" height="1" fill="#800000"/>
<rect x="644" y="268" width="1" height="14" fill="#000080"/>
<rect x="644" y="283" width="1" height="14" fill="#000000"/>
<rect x="644" y="297" width="1" height="6" fill="#0000FF"/>
<rect x="632" y="302" width="25" height="1" fill="#0000FF"/>
<rect x="633" y="307" width="25" height="1" fill="#0000FF"/>
<rect x="644" y="307" width="1" height="6" fill="#0000FF"/>
<rect x="644" y="313" width="1" height="14" fill="#000000"/>
<rect x="644" y="327" width="1" height="15" fill="#000080"/>
<rect x="644" y="342" width="1" height="15" fill="#800000"/>
<rect x="629" y="356" width="30" height="1" fill="#800000"/>
<rect x="634" y="361" width="21" height="1" fill="#800000"/>
<rect x="638" y="365" width="12" height="1" fill="#800000"/>
<rect x="643" y="370" width="3" height="1" fill="#800000"/>
</g>
<g filter="url(#th)">
<text x="9.6" y="115.7" font-size="13.6" fill="#800000" textLength="58.50" lengthAdjust="spacingAndGlyphs">CAN_GND</text>
<text x="37.5" y="159.8" font-size="13.6" fill="#800000" textLength="45.50" lengthAdjust="spacingAndGlyphs">CAN_5V</text>
<text x="144.8" y="136.8" font-size="13.6" fill="#000080" textLength="13.10" lengthAdjust="spacingAndGlyphs">C5</text>
<text x="145.3" y="150.8" font-size="13.6" fill="#000080" textLength="39.30" lengthAdjust="spacingAndGlyphs">104/50V</text>
<text x="243.0" y="78.8" font-size="13.6" fill="#000080" textLength="13.00" lengthAdjust="spacingAndGlyphs">U1</text>
<text x="243.1" y="167.7" font-size="13.6" fill="#000080" textLength="58.30" lengthAdjust="spacingAndGlyphs">SIT1051T/3</text>
<text x="225.5" y="93.9" font-size="13.6" fill="#000000" textLength="3.90" lengthAdjust="spacingAndGlyphs">1</text>
<text x="225.0" y="108.3" font-size="13.6" fill="#000000" textLength="4.60" lengthAdjust="spacingAndGlyphs">2</text>
<text x="225.0" y="123.5" font-size="13.6" fill="#000000" textLength="4.60" lengthAdjust="spacingAndGlyphs">3</text>
<text x="225.0" y="138.0" font-size="13.6" fill="#000000" textLength="4.60" lengthAdjust="spacingAndGlyphs">4</text>
<text x="254.0" y="101.0" font-size="13.6" fill="#000000" textLength="25.40" lengthAdjust="spacingAndGlyphs">TXD</text>
<text x="254.0" y="115.6" font-size="13.6" fill="#000000" textLength="26.00" lengthAdjust="spacingAndGlyphs">GND</text>
<text x="254.0" y="130.4" font-size="13.6" fill="#000000" textLength="23.00" lengthAdjust="spacingAndGlyphs">VCC</text>
<text x="254.4" y="145.6" font-size="13.6" fill="#000000" textLength="25.00" lengthAdjust="spacingAndGlyphs">RXD</text>
<text x="315.0" y="101.0" font-size="13.6" fill="#000000" textLength="21.00" lengthAdjust="spacingAndGlyphs">STB</text>
<text x="302.0" y="115.6" font-size="13.6" fill="#000000" textLength="34.40" lengthAdjust="spacingAndGlyphs">CANH</text>
<text x="304.0" y="130.4" font-size="13.6" fill="#000000" textLength="32.00" lengthAdjust="spacingAndGlyphs">CANL</text>
<text x="316.6" y="145.6" font-size="13.6" fill="#000000" textLength="19.40" lengthAdjust="spacingAndGlyphs">VIO</text>
<text x="359.0" y="93.9" font-size="13.6" fill="#000000" textLength="5.00" lengthAdjust="spacingAndGlyphs">8</text>
<text x="359.0" y="107.8" font-size="13.6" fill="#000000" textLength="5.00" lengthAdjust="spacingAndGlyphs">7</text>
<text x="359.5" y="122.2" font-size="13.6" fill="#000000" textLength="4.50" lengthAdjust="spacingAndGlyphs">6</text>
<text x="359.0" y="138.0" font-size="13.6" fill="#000000" textLength="5.00" lengthAdjust="spacingAndGlyphs">5</text>
<text x="414.0" y="18.8" font-size="13.6" fill="#800000" textLength="50.90" lengthAdjust="spacingAndGlyphs">MCU PIN</text>
<text x="387.9" y="189.8" font-size="13.6" fill="#800000" textLength="21.30" lengthAdjust="spacingAndGlyphs">3.3V</text>
<text x="511.0" y="57.7" font-size="13.6" fill="#000080" textLength="12.50" lengthAdjust="spacingAndGlyphs">R1</text>
<text x="540.1" y="56.2" font-size="13.6" fill="#000080" textLength="62.00" lengthAdjust="spacingAndGlyphs">NC/0Ω&lt;20Ω</text>
<text x="563.0" y="130.6" font-size="13.6" fill="#000080" textLength="13.00" lengthAdjust="spacingAndGlyphs">L1</text>
<text x="511.0" y="153.6" font-size="13.6" fill="#000080" textLength="13.00" lengthAdjust="spacingAndGlyphs">R3</text>
<text x="502.6" y="189.8" font-size="13.6" fill="#000080" textLength="62.30" lengthAdjust="spacingAndGlyphs">NC/0Ω&lt;20Ω</text>
<text x="1059.3" y="85.8" font-size="13.6" fill="#800000" textLength="35.00" lengthAdjust="spacingAndGlyphs">CANH</text>
<text x="1059.3" y="152.5" font-size="13.6" fill="#800000" textLength="33.20" lengthAdjust="spacingAndGlyphs">CANL</text>
<text x="940.0" y="108.0" font-size="13.6" fill="#000080" textLength="13.00" lengthAdjust="spacingAndGlyphs">R2</text>
<text x="955.8" y="137.7" font-size="13.6" fill="#000080" textLength="40.70" lengthAdjust="spacingAndGlyphs">NC/60Ω</text>
<text x="1002.7" y="136.6" font-size="11" fill="#000080" textLength="2.90" lengthAdjust="spacingAndGlyphs">(</text>
<text x="1009.3" y="137.7" font-size="13.6" fill="#000080" textLength="23.00" lengthAdjust="spacingAndGlyphs">1.3K</text>
<text x="1034.8" y="136.6" font-size="11" fill="#000080" textLength="3.70" lengthAdjust="spacingAndGlyphs">)</text>
<text x="649.5" y="212.6" font-size="13.6" fill="#000080" textLength="14.10" lengthAdjust="spacingAndGlyphs">R4</text>
<text x="555.0" y="235.1" font-size="13.6" fill="#000080" textLength="40.70" lengthAdjust="spacingAndGlyphs">NC/60Ω</text>
<text x="601.9" y="234.0" font-size="11" fill="#000080" textLength="2.90" lengthAdjust="spacingAndGlyphs">(</text>
<text x="608.5" y="235.1" font-size="13.6" fill="#000080" textLength="23.00" lengthAdjust="spacingAndGlyphs">1.3K</text>
<text x="634.0" y="234.0" font-size="11" fill="#000080" textLength="3.70" lengthAdjust="spacingAndGlyphs">)</text>
<text x="694.5" y="212.6" font-size="13.6" fill="#000080" textLength="13.50" lengthAdjust="spacingAndGlyphs">R5</text>
<text x="651.9" y="175.0" font-size="13.6" fill="#000080" textLength="40.70" lengthAdjust="spacingAndGlyphs">NC/60Ω</text>
<text x="698.8" y="173.9" font-size="11" fill="#000080" textLength="2.90" lengthAdjust="spacingAndGlyphs">(</text>
<text x="705.4" y="175.0" font-size="13.6" fill="#000080" textLength="23.00" lengthAdjust="spacingAndGlyphs">1.3K</text>
<text x="730.9" y="173.9" font-size="11" fill="#000080" textLength="3.70" lengthAdjust="spacingAndGlyphs">)</text>
<text x="755.9" y="204.9" font-size="13.6" fill="#000080" textLength="13.20" lengthAdjust="spacingAndGlyphs">D1</text>
<text x="807.9" y="204.9" font-size="13.6" fill="#000080" textLength="14.20" lengthAdjust="spacingAndGlyphs">D2</text>
<text x="850.6" y="232.6" font-size="13.6" fill="#000080" textLength="12.50" lengthAdjust="spacingAndGlyphs">C1</text>
<text x="902.7" y="232.8" font-size="13.6" fill="#000080" textLength="13.50" lengthAdjust="spacingAndGlyphs">C2</text>
<text x="904.0" y="248.6" font-size="13.6" fill="#000080" textLength="86.80" lengthAdjust="spacingAndGlyphs">NC/&lt;100pF/100V</text>
<text x="771.2" y="286.8" font-size="13.6" fill="#000080" textLength="86.00" lengthAdjust="spacingAndGlyphs">NC/&lt;100pF/100V</text>
<text x="853.8" y="346.0" font-size="13.6" fill="#800000" textLength="26.20" lengthAdjust="spacingAndGlyphs">GND</text>
<text x="657.5" y="306.5" font-size="13.6" fill="#000080" textLength="13.50" lengthAdjust="spacingAndGlyphs">C3</text>
<text x="658.0" y="337.0" font-size="13.6" fill="#000080" textLength="69.50" lengthAdjust="spacingAndGlyphs">NC/4.7nF/50V</text>
<text x="630.5" y="382.5" font-size="13.6" fill="#800000" textLength="27.00" lengthAdjust="spacingAndGlyphs">GND</text>
</g>
</svg>
</body></html>
